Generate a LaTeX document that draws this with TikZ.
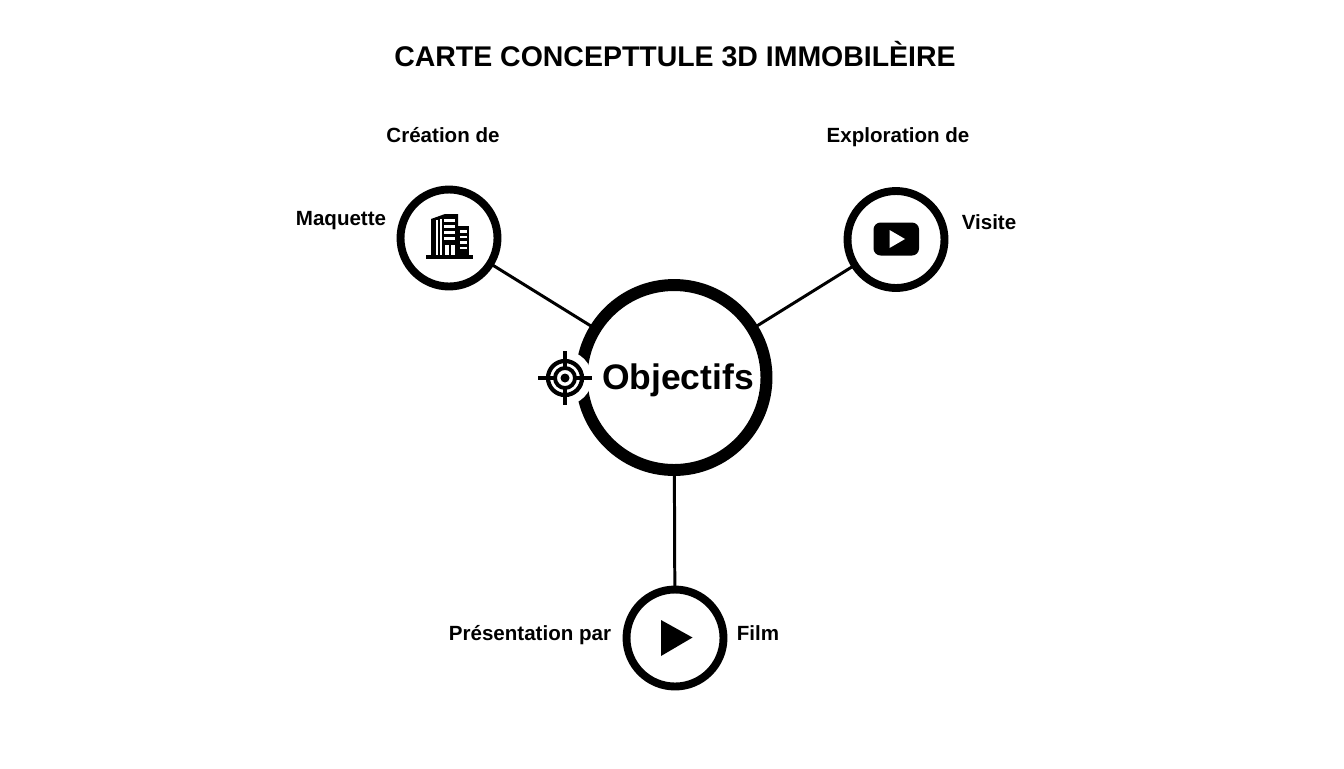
\documentclass[tikz,border=0pt]{standalone}
\usepackage{fontspec}
\setmainfont{Liberation Sans}
\tikzset{
  label text/.style={font=\fontsize{11.7}{14}\selectfont\bfseries, inner sep=0pt},
  small ring/.style={draw, circle, line width=4.5pt, minimum size=1.94cm, fill=white},
  big ring/.style={draw, circle, line width=6.8pt, minimum size=3.7cm, fill=white},
  link/.style={line width=1.7pt}
}
\begin{document}
\begin{tikzpicture}[x=0.02cm, y=-0.02cm]
    \useasboundingbox (0, 0) rectangle (1344, 768);

    \node[font=\fontsize{16.2}{20}\selectfont\bfseries, inner sep=0pt] (title) at (675, 54) {CARTE CONCEPTTULE 3D IMMOBILÈIRE};

    \coordinate (maquettepos) at (449, 238);
    \coordinate (visitepos) at (896, 239.5);
    \coordinate (filmpos) at (675, 638);

    % connectors first, the rings hide their ends
    \node[big ring, draw=none] (objectifs) at (674, 377.5) {};
    \node[small ring, draw=none, fill=none] (maquette) at (maquettepos) {};
    \node[small ring, draw=none, fill=none] (visite) at (visitepos) {};
    \node[small ring, draw=none, fill=none] (film) at (filmpos) {};
    \draw[link] (objectifs.center) -- (maquette.center);
    \draw[link] (objectifs.center) -- (visite.center);
    \draw[link] (objectifs.center) -- (film.center);

    \node[big ring] at (objectifs.center) (objectifsring) {};
    \node[small ring] at (maquette.center) (maquettering) {};
    \node[small ring] at (visite.center) (visitering) {};
    \node[small ring] at (film.center) (filmring) {};

    \node[font=\fontsize{20.2}{26}\selectfont\bfseries, inner sep=0pt] (objectifslabel) at (678, 380) {Objectifs};

    \node[label text] (creation) at (443, 135) {Création de};
    \node[label text] (exploration) at (898, 137) {Exploration de};
    \node[label text] (maquettelabel) at (341, 221) {Maquette};
    \node[label text] (visitelabel) at (989, 222) {Visite};
    \node[label text] (presentation) at (530, 635) {Présentation par};
    \node[label text] (filmlabel) at (758, 633) {Film};

    % target
    \fill[white] (565, 378) circle (27);
    \draw[line width=2.4pt] (565, 378) circle (17);
    \draw[line width=2.2pt] (565, 378) circle (10);
    \fill (565, 378) circle (4.5);
    \draw[line width=2.2pt] (538, 378) -- (555, 378) (575, 378) -- (592, 378)
      (565, 351) -- (565, 368) (565, 388) -- (565, 405);

    % building
    \fill (426, 255) rectangle (473, 259);
    \fill (431, 219) -- (445, 214) -- (458, 214) -- (458, 255) -- (431, 255) -- cycle;
    \fill (458, 226) rectangle (469, 255);
    \fill[white] (436, 220) rectangle (437.5, 255);
    \fill[white] (439.5, 219) rectangle (441.5, 255);
    \foreach \y in {219, 225, 231, 237}
      \fill[white] (444, \y) rectangle (455, \y + 2.5);
    \fill[white] (445, 245) rectangle (449, 255);
    \fill[white] (451, 245) rectangle (455, 255);
    \foreach \y in {230, 235.5, 241, 246.5}
      \fill[white] (460, \y) rectangle (467, \y + 2.5);

    % video
    \fill[rounded corners=4] (873.5, 222.5) rectangle (919, 255.5);
    \fill[white] (889.5, 230) -- (905, 239) -- (889.5, 248) -- cycle;

    % play
    \fill (661, 620) -- (692.5, 637.5) -- (661, 656) -- cycle;
  \end{tikzpicture}
\end{document}
